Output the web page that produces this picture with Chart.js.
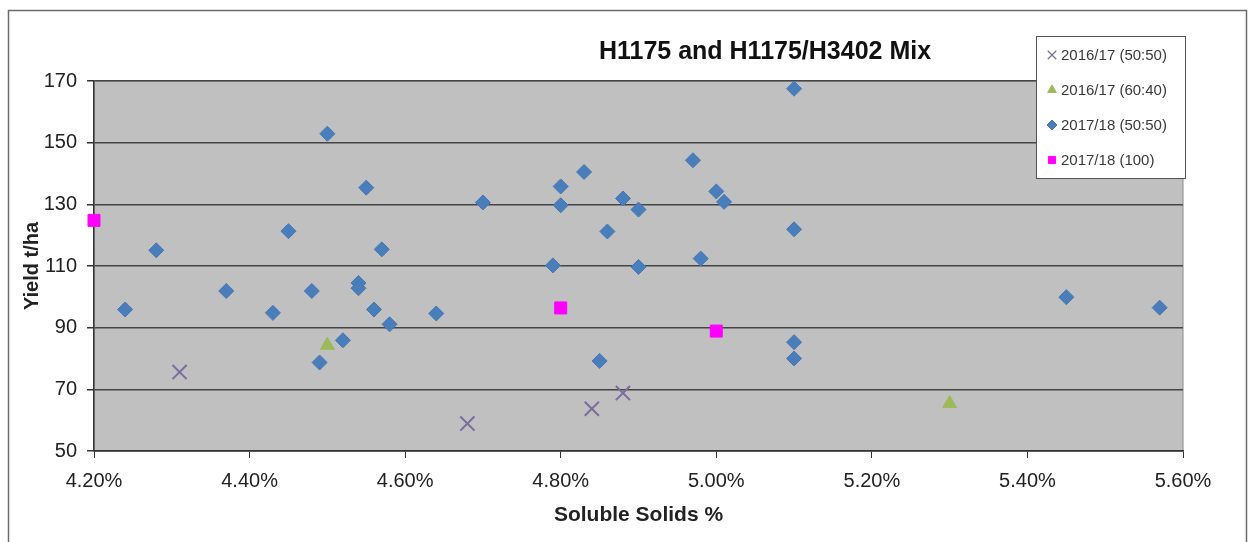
<!DOCTYPE html>
<html>
<head>
<meta charset="utf-8">
<script src="https://cdn.jsdelivr.net/npm/chart.js@4"></script>
<style>
  html, body { margin: 0; padding: 0; background: #fff; }
  #wrap { width: 1255px; height: 542px; }
</style>
</head>
<body>
<div id="wrap"><canvas id="yieldChart"></canvas></div>
<script>
// values
const seriesLabels = ["2016/17 (50:50)", "2016/17 (60:40)", "2017/18 (50:50)", "2017/18 (100)"];

const solids1617a = [4.31, 4.68, 4.84, 4.88];
const yield1617a = [75.6, 58.9, 63.7, 68.8];

const solids1617b = [4.50, 5.30];
const yield1617b = [84.3, 65.4];

const solids1718a = [4.24, 4.28, 4.37, 4.43, 4.45, 4.48, 4.49, 4.50, 4.52, 4.54, 4.54, 4.55,
    4.56, 4.57, 4.58, 4.64, 4.70, 4.79, 4.80, 4.80, 4.83, 4.85, 4.86, 4.88,
    4.90, 4.90, 4.97, 4.98, 5.00, 5.01, 5.10, 5.10, 5.10, 5.10, 5.45, 5.57];
const yield1718a = [95.9, 115.1, 101.9, 94.8, 121.3, 101.9, 78.7, 152.9, 85.9, 104.5, 102.8, 135.4,
    95.9, 115.4, 91.1, 94.6, 130.6, 110.2, 135.8, 129.7, 140.5, 79.2, 121.2, 131.9,
    128.3, 109.7, 144.3, 112.4, 134.2, 130.8, 167.5, 121.9, 85.3, 80.0, 99.9, 96.5];

const solids1718b = [4.20, 4.80, 5.00];
const yield1718b = [124.8, 96.4, 88.9];

const xTicks = [4.2, 4.4, 4.6, 4.8, 5.0, 5.2, 5.4, 5.6];
const yTicks = [50, 70, 90, 110, 130, 150, 170];

const FONT = "'Liberation Sans', Arial, sans-serif";

function pts(xs, ys) {
    return xs.map((x, i) => ({ x: x, y: ys[i] }));
}

const frame = {
    id: "frame",
    beforeDraw(chart) {
        const { ctx, chartArea: a } = chart;
        ctx.save();
        ctx.strokeStyle = "#6b6b6b";
        ctx.lineWidth = 1.5;
        ctx.strokeRect(8.5, 10.5, 1238, 600);
        ctx.fillStyle = "#c0c0c0";
        ctx.fillRect(a.left, a.top, a.right - a.left, a.bottom - a.top);
        ctx.strokeStyle = "#8a8a8a";
        ctx.lineWidth = 1;
        ctx.strokeRect(a.left, a.top, a.right - a.left, a.bottom - a.top);
        ctx.restore();
    },
    afterDraw(chart) {
        const ctx = chart.ctx;
        ctx.save();
        // title
        ctx.fillStyle = "#111";
        ctx.font = "bold 25px " + FONT;
        ctx.textAlign = "center";
        ctx.textBaseline = "middle";
        ctx.fillText("H1175 and H1175/H3402 Mix", 765, 52);

        // legend box
        ctx.fillStyle = "#fff";
        ctx.fillRect(1036, 36, 149, 142);
        ctx.strokeStyle = "#555";
        ctx.lineWidth = 1;
        ctx.strokeRect(1036.5, 36.5, 149, 142);

        ctx.font = "15px " + FONT;
        ctx.textAlign = "left";
        chart.data.datasets.forEach((ds, i) => {
            const y = 55 + i * 35;
            const opts = {
                pointStyle: ds.pointStyle,
                radius: ds.pointStyle === "crossRot" ? 6 : 5,
                borderWidth: ds.pointStyle === "crossRot" ? 1.2 : 1
            };
            ctx.fillStyle = ds.backgroundColor;
            ctx.strokeStyle = ds.borderColor;
            ctx.lineWidth = opts.borderWidth;
            Chart.helpers.drawPoint(ctx, opts, 1052, y);
            ctx.fillStyle = "#3a3a3a";
            ctx.fillText(ds.label, 1061, y + 1);
        });
        ctx.restore();
    }
};

const ctx = document.getElementById("yieldChart");
new Chart(ctx, {
    type: "scatter",
    data: {
        datasets: [
            {
                label: seriesLabels[0],
                data: pts(solids1617a, yield1617a),
                pointStyle: "crossRot",
                pointRadius: 10,
                borderWidth: 2,
                borderColor: "#7a6c9c",
                backgroundColor: "#7a6c9c",
                clip: false,
            },
            {
                label: seriesLabels[1],
                data: pts(solids1617b, yield1617b),
                pointStyle: "triangle",
                pointRadius: 8,
                borderWidth: 1,
                borderColor: "#9bbb59",
                backgroundColor: "#9bbb59",
                clip: false,
            },
            {
                label: seriesLabels[2],
                data: pts(solids1718a, yield1718a),
                pointStyle: "rectRot",
                pointRadius: 7.5,
                borderWidth: 1,
                borderColor: "#4677b4",
                backgroundColor: "#4a7ebb",
                clip: false,
            },
            {
                label: seriesLabels[3],
                data: pts(solids1718b, yield1718b),
                pointStyle: "rect",
                pointRadius: 8.5,
                borderWidth: 1,
                borderColor: "#ff00ff",
                backgroundColor: "#ff00ff",
                clip: false,
            },
        ],
    },
    options: {
        responsive: true,
        maintainAspectRatio: false,
        animation: false,
        layout: { padding: { left: 0, top: 81, right: 72, bottom: 0 } },
        plugins: {
            legend: { display: false },
            title: { display: false },
            tooltip: { enabled: false },
        },
        scales: {
            x: {
                type: "linear",
                min: 4.2,
                max: 5.6,
                afterBuildTicks: (s) => { s.ticks = xTicks.map((v) => ({ value: v })); },
                afterFit: (s) => { s.height = 91; },
                ticks: {
                    color: "#222",
                    font: { family: FONT, size: 20 },
                    padding: 11,
                    maxRotation: 0,
                    callback: (v) => v.toFixed(2) + "%",
                },
                grid: { drawOnChartArea: false, tickLength: 7, tickColor: "#333" },
                border: { color: "#333", width: 1.5 },
                title: {
                    display: true,
                    text: "Soluble Solids %",
                    color: "#222",
                    font: { family: FONT, size: 21, weight: "bold" },
                    padding: { top: 0, bottom: 14 },
                },
            },
            y: {
                min: 50,
                max: 170,
                afterBuildTicks: (s) => { s.ticks = yTicks.map((v) => ({ value: v })); },
                afterFit: (s) => { s.width = 94; },
                ticks: {
                    color: "#222",
                    font: { family: FONT, size: 20 },
                    padding: 10,
                },
                grid: { color: "#454545", lineWidth: 1.5, tickLength: 7, tickColor: "#333" },
                border: { color: "#333", width: 1.5 },
                title: {
                    display: true,
                    text: "Yield t/ha",
                    color: "#222",
                    font: { family: FONT, size: 20, weight: "bold" },
                    padding: { top: 20, bottom: 0 },
                },
            },
        },
    },
    plugins: [frame],
});
</script>
</body>
</html>
